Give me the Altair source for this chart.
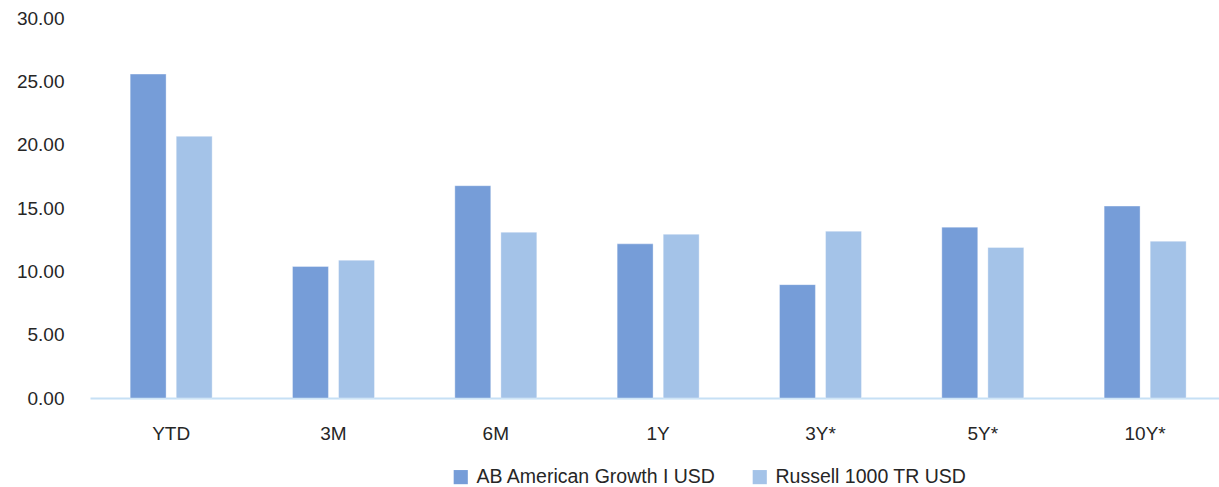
import altair as alt
import pandas as pd

periods = ["YTD", "3M", "6M", "1Y", "3Y*", "5Y*", "10Y*"]
series_names = ["AB American Growth I USD", "Russell 1000 TR USD"]
fund_values = [25.57, 10.38, 16.76, 12.17, 8.95, 13.49, 15.15]
index_values = [20.66, 10.88, 13.09, 12.93, 13.17, 11.88, 12.38]
y_ticks = [0, 5, 10, 15, 20, 25, 30]
colors = ["#769DD8", "#A4C3E8"]

rows = []
for p, a, b in zip(periods, fund_values, index_values):
    rows.append({"period": p, "series": series_names[0], "value": a})
    rows.append({"period": p, "series": series_names[1], "value": b})
df = pd.DataFrame(rows)

FONT = "Liberation Sans"
FS = 19

chart = alt.Chart(df).mark_bar(stroke="#FFFFFF", strokeOpacity=0.35, strokeWidth=1).encode(
    x=alt.X("period:N", sort=periods, title=None,
            scale=alt.Scale(paddingInner=0.495, paddingOuter=0.225, align=0.55),
            axis=alt.Axis(labelAngle=0, ticks=False, domainColor="#C6E0F5", domainWidth=2,
                          labelFontSize=FS, labelColor="#262626", labelFont=FONT,
                          labelPadding=26, grid=False)),
    xOffset=alt.XOffset("series:N", sort=series_names,
                        scale=alt.Scale(paddingInner=0.22, paddingOuter=0)),
    y=alt.Y("value:Q", title=None, scale=alt.Scale(domain=[0, 30], nice=False),
            axis=alt.Axis(values=y_ticks, format=".2f", ticks=False, domain=False, grid=False,
                          labelFontSize=FS, labelColor="#262626", labelFont=FONT,
                          labelPadding=26)),
    color=alt.Color("series:N", sort=series_names,
                    scale=alt.Scale(domain=series_names, range=colors),
                    legend=alt.Legend(title=None, orient="none", legendX=361, legendY=449,
                                      direction="horizontal", symbolType="square",
                                      symbolSize=200, symbolStrokeWidth=0,
                                      labelFontSize=19.5, labelColor="#262626", labelFont=FONT,
                                      labelOffset=6, columnPadding=34, labelLimit=0)),
).properties(
    width=1129, height=380,
    autosize=alt.AutoSizeParams(type="none"),
    padding={"left": 90, "top": 18, "right": 0, "bottom": 89},
).configure_view(stroke=None)

chart.save("out.html", embed_options={"renderer": "svg", "actions": False})
